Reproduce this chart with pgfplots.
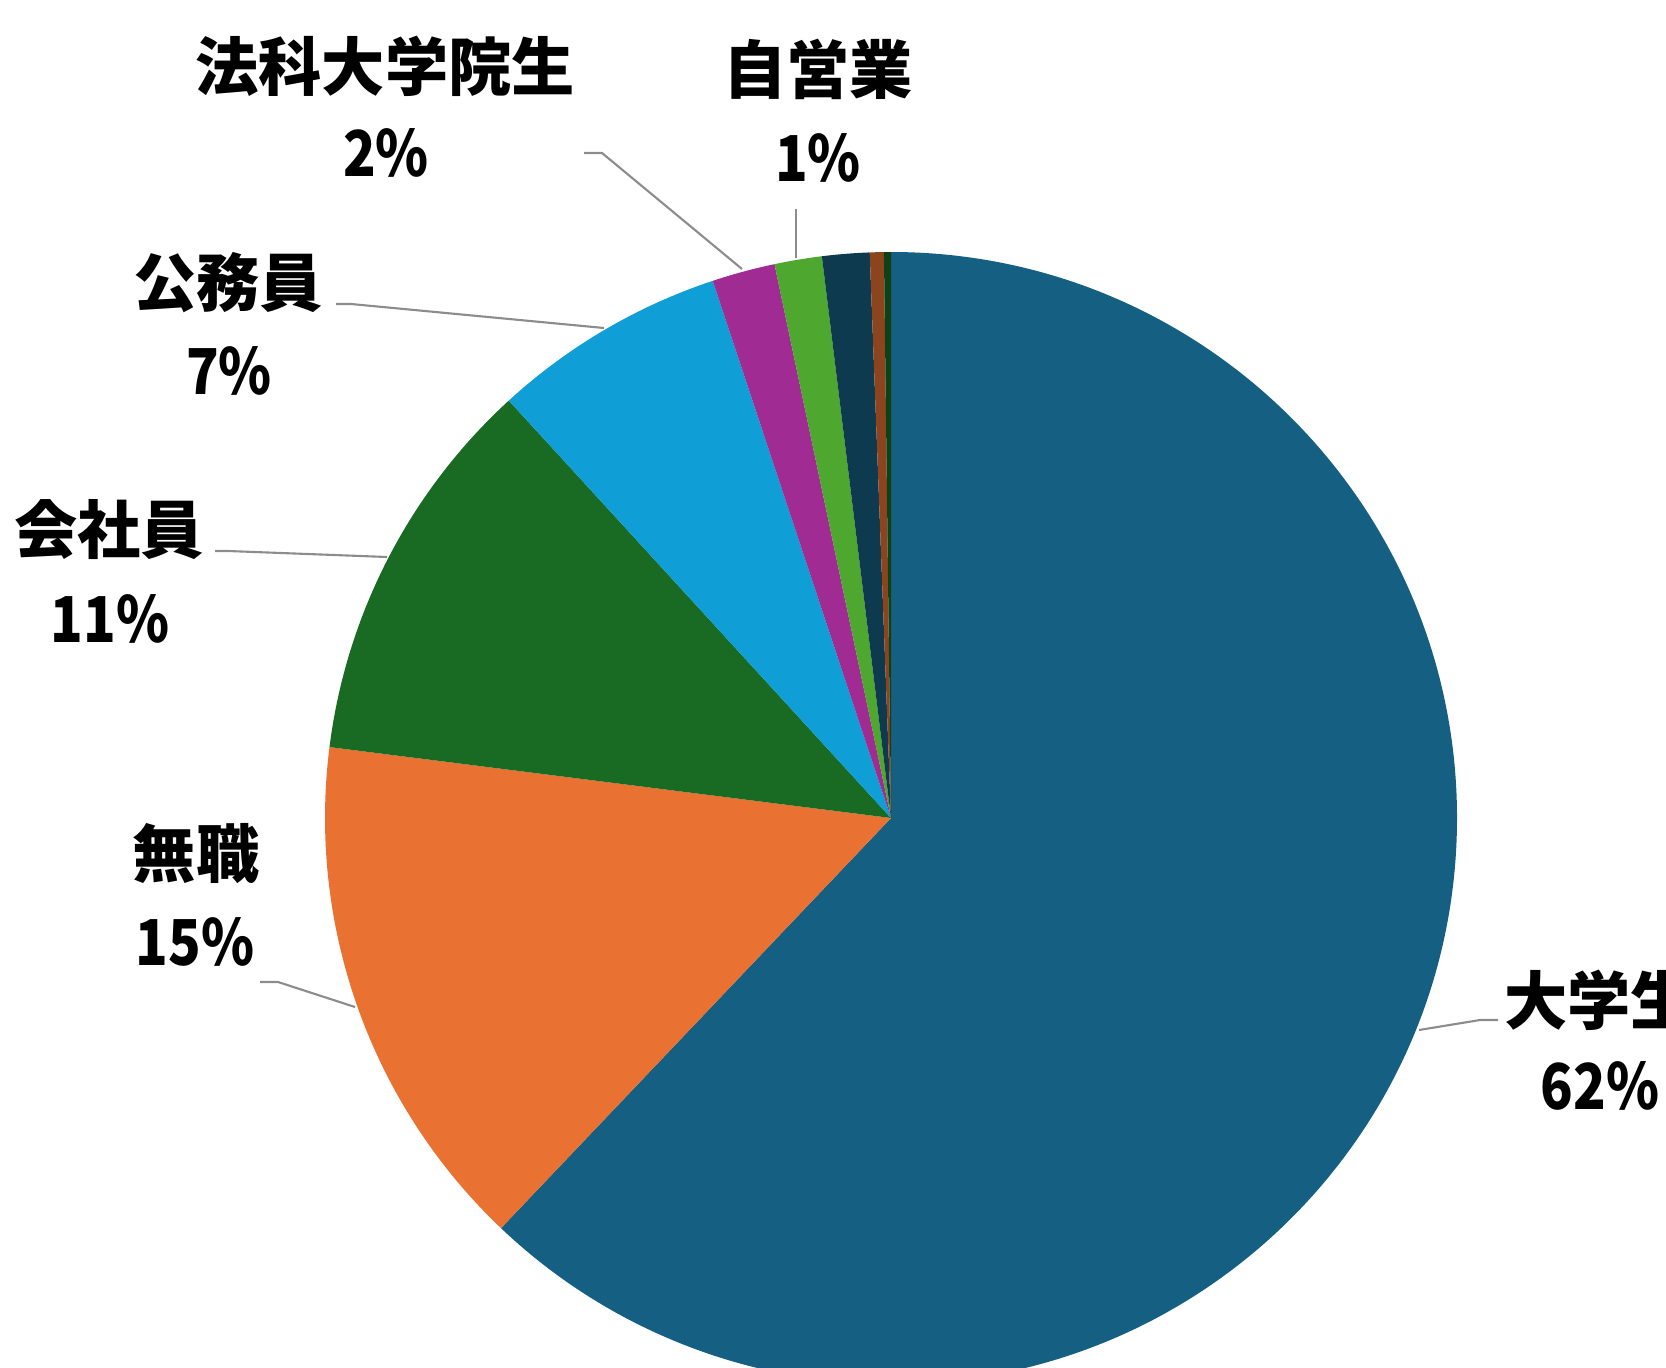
\documentclass[border=0pt]{standalone}
\usepackage{fontspec}
\usepackage{graphicx}
\usepackage{pgfplots}
\usepackage{pgfplotstable}
\pgfplotsset{compat=1.18}
\newfontfamily\cjk{Noto Sans CJK JP}

\definecolor{c1}{HTML}{156082}
\definecolor{c2}{HTML}{E97132}
\definecolor{c3}{HTML}{196B24}
\definecolor{c4}{HTML}{0F9ED5}
\definecolor{c5}{HTML}{A02B93}
\definecolor{c6}{HTML}{4EA72E}
\definecolor{c7}{HTML}{0D3A4E}
\definecolor{c8}{HTML}{8C441E}
\definecolor{c9}{HTML}{0F4016}
\definecolor{leader}{HTML}{8C8C8C}

\tikzset{lbl/.style={font=\cjk\bfseries\fontsize{18}{21}\selectfont, inner sep=0pt}}
\newcommand\pct[1]{\scalebox{0.85}[1]{#1\%}}

% share of each group, percent (clockwise from 12 o'clock)
\pgfplotstableread{
value color
62.1  c1
14.9  c2
11.2  c3
6.7   c4
1.8   c5
1.35  c6
1.35  c7
0.4   c8
0.2   c9
}\piedata

\begin{document}
\begin{tikzpicture}
\begin{axis}[
    width=166.6mm, height=136.7mm,
    scale only axis,
    xmin=0, xmax=1666, ymin=0, ymax=1367,
    hide axis, clip=false,
]
\coordinate (bl) at (axis cs:0,0);
\coordinate (tr) at (axis cs:1666,1367);

\pgfplotstablegetrowsof{\piedata}
\pgfmathtruncatemacro\nrows{\pgfplotsretval-1}
\gdef\cum{0}
\pgfplotsforeachungrouped \i in {0,...,\nrows}{
    \pgfplotstablegetelem{\i}{value}\of\piedata \let\v\pgfplotsretval
    \pgfplotstablegetelem{\i}{color}\of\piedata \let\c\pgfplotsretval
    \pgfmathsetmacro\a{90-3.6*\cum}
    \pgfmathsetmacro\b{90-3.6*(\cum+\v)}
    \edef\temp{\noexpand\fill[\c] (axis cs:891,549) -- ++(\a:56.6mm)
        arc[start angle=\a, end angle=\b, radius=56.6mm] -- cycle;}
    \temp
    \pgfmathsetmacro\newcum{\cum+\v}
    \xdef\cum{\newcum}
}

% leader lines
\draw[leader, line width=0.6pt] (axis cs:584,1214) -- (axis cs:602,1214) -- (axis cs:742,1098);
\draw[leader, line width=0.6pt] (axis cs:796,1158) -- (axis cs:796,1109);
\draw[leader, line width=0.6pt] (axis cs:336,1063) -- (axis cs:351,1063) -- (axis cs:604,1039);
\draw[leader, line width=0.6pt] (axis cs:215,816) -- (axis cs:228,816) -- (axis cs:387,810);
\draw[leader, line width=0.6pt] (axis cs:260,385) -- (axis cs:278,385) -- (axis cs:355,360);
\draw[leader, line width=0.6pt] (axis cs:1419,337) -- (axis cs:1480,347) -- (axis cs:1498,347);

% data labels
\node[lbl] at (axis cs:385,1301) {法科大学院生};
\node[lbl] at (axis cs:386,1214) {\pct{2}};
\node[lbl] at (axis cs:818,1298) {自営業};
\node[lbl] at (axis cs:818,1209) {\pct{1}};
\node[lbl] at (axis cs:228,1084) {公務員};
\node[lbl] at (axis cs:229,996) {\pct{7}};
\node[lbl] at (axis cs:109,837) {会社員};
\node[lbl] at (axis cs:110,748) {\pct{11}};
\node[lbl] at (axis cs:196,513) {無職};
\node[lbl] at (axis cs:195,425) {\pct{15}};
\node[lbl] at (axis cs:1599,367) {大学生};
\node[lbl] at (axis cs:1600,281) {\pct{62}};
\end{axis}
\pgfresetboundingbox
\path[use as bounding box] (bl) rectangle (tr);
\end{tikzpicture}
\end{document}
